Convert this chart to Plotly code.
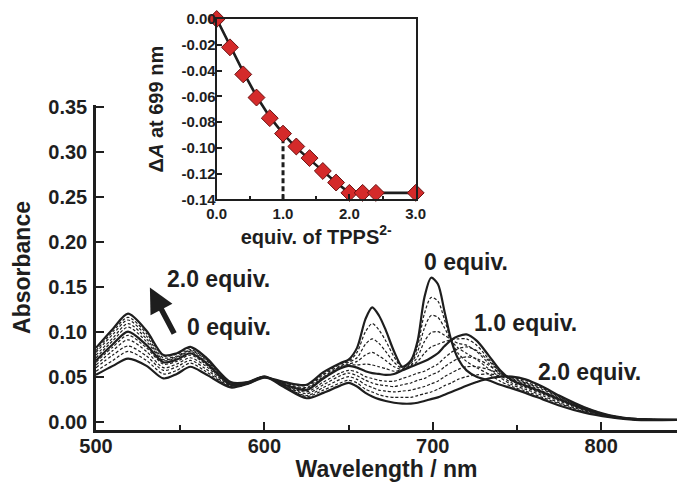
import plotly.graph_objects as go

# ---------------- data ----------------
wavelength = [500, 510, 519, 530, 540, 548, 556, 565, 580, 590, 600, 612, 625, 635, 645,
              650, 655, 660, 664, 668, 672, 677, 682, 687, 691, 695, 699, 703, 707, 711,
              715, 720, 726, 733, 740, 747, 755, 765, 775, 790, 805, 820, 845]

spec_0_0 = [0.052, 0.062, 0.070, 0.062, 0.048, 0.053, 0.061, 0.053, 0.038, 0.042, 0.049, 0.044,
            0.041, 0.055, 0.065, 0.069, 0.082, 0.114, 0.127, 0.118, 0.102, 0.078, 0.061, 0.068,
            0.090, 0.138, 0.160, 0.153, 0.122, 0.090, 0.070, 0.057, 0.050, 0.046, 0.041, 0.037,
            0.032, 0.025, 0.018, 0.010, 0.005, 0.002, 0.002]
spec_0_2 = [0.056, 0.068, 0.078, 0.068, 0.053, 0.057, 0.065, 0.056, 0.039, 0.042, 0.049, 0.043,
            0.040, 0.053, 0.064, 0.067, 0.077, 0.100, 0.109, 0.102, 0.090, 0.072, 0.060, 0.066,
            0.084, 0.120, 0.138, 0.134, 0.113, 0.090, 0.076, 0.067, 0.060, 0.053, 0.045, 0.039,
            0.034, 0.027, 0.020, 0.011, 0.005, 0.002, 0.002]
spec_0_4 = [0.060, 0.074, 0.084, 0.073, 0.057, 0.061, 0.068, 0.059, 0.039, 0.042, 0.049, 0.043,
            0.038, 0.052, 0.062, 0.066, 0.071, 0.086, 0.092, 0.087, 0.078, 0.066, 0.059, 0.065,
            0.078, 0.104, 0.118, 0.116, 0.104, 0.090, 0.082, 0.076, 0.069, 0.059, 0.049, 0.041,
            0.036, 0.029, 0.021, 0.012, 0.005, 0.003, 0.002]
spec_0_6 = [0.063, 0.079, 0.091, 0.078, 0.060, 0.064, 0.071, 0.062, 0.040, 0.043, 0.050, 0.042,
            0.037, 0.050, 0.061, 0.064, 0.067, 0.074, 0.077, 0.073, 0.068, 0.061, 0.058, 0.063,
            0.072, 0.089, 0.099, 0.100, 0.096, 0.091, 0.087, 0.085, 0.078, 0.065, 0.052, 0.043,
            0.038, 0.031, 0.023, 0.013, 0.006, 0.003, 0.002]
spec_0_8 = [0.066, 0.083, 0.096, 0.082, 0.064, 0.067, 0.074, 0.064, 0.041, 0.043, 0.050, 0.041,
            0.036, 0.049, 0.060, 0.063, 0.063, 0.064, 0.063, 0.061, 0.059, 0.056, 0.058, 0.062,
            0.067, 0.076, 0.083, 0.086, 0.089, 0.091, 0.092, 0.092, 0.085, 0.070, 0.055, 0.045,
            0.039, 0.032, 0.024, 0.013, 0.006, 0.003, 0.002]
spec_1_0 = [0.068, 0.086, 0.100, 0.085, 0.066, 0.069, 0.076, 0.066, 0.041, 0.043, 0.050, 0.041,
            0.035, 0.048, 0.059, 0.062, 0.060, 0.056, 0.054, 0.053, 0.052, 0.053, 0.057, 0.061,
            0.064, 0.067, 0.071, 0.076, 0.084, 0.091, 0.095, 0.097, 0.090, 0.074, 0.057, 0.046,
            0.040, 0.033, 0.025, 0.014, 0.006, 0.003, 0.002]
spec_1_2 = [0.071, 0.090, 0.105, 0.089, 0.068, 0.071, 0.078, 0.067, 0.042, 0.043, 0.050, 0.040,
            0.033, 0.044, 0.054, 0.057, 0.055, 0.050, 0.048, 0.046, 0.045, 0.045, 0.048, 0.051,
            0.054, 0.056, 0.060, 0.064, 0.071, 0.077, 0.081, 0.083, 0.079, 0.068, 0.055, 0.047,
            0.042, 0.034, 0.026, 0.014, 0.006, 0.003, 0.002]
spec_1_4 = [0.074, 0.093, 0.109, 0.092, 0.069, 0.072, 0.079, 0.069, 0.042, 0.043, 0.050, 0.040,
            0.031, 0.041, 0.051, 0.054, 0.051, 0.046, 0.043, 0.041, 0.040, 0.039, 0.041, 0.043,
            0.046, 0.048, 0.052, 0.055, 0.061, 0.066, 0.070, 0.072, 0.070, 0.063, 0.054, 0.048,
            0.043, 0.036, 0.027, 0.015, 0.006, 0.003, 0.002]
spec_1_6 = [0.077, 0.097, 0.113, 0.095, 0.071, 0.073, 0.080, 0.070, 0.043, 0.044, 0.050, 0.039,
            0.029, 0.038, 0.047, 0.050, 0.047, 0.041, 0.038, 0.035, 0.034, 0.033, 0.034, 0.035,
            0.037, 0.039, 0.042, 0.045, 0.050, 0.054, 0.058, 0.061, 0.061, 0.058, 0.053, 0.049,
            0.044, 0.037, 0.028, 0.015, 0.007, 0.003, 0.002]
spec_1_8 = [0.079, 0.100, 0.116, 0.098, 0.073, 0.075, 0.082, 0.071, 0.043, 0.044, 0.050, 0.039,
            0.028, 0.035, 0.043, 0.046, 0.043, 0.036, 0.033, 0.030, 0.028, 0.027, 0.027, 0.027,
            0.029, 0.031, 0.033, 0.036, 0.040, 0.043, 0.047, 0.050, 0.052, 0.053, 0.051, 0.049,
            0.046, 0.038, 0.028, 0.016, 0.007, 0.003, 0.002]
spec_2_0 = [0.082, 0.103, 0.120, 0.101, 0.074, 0.076, 0.083, 0.072, 0.044, 0.044, 0.050, 0.038,
            0.026, 0.032, 0.040, 0.043, 0.039, 0.032, 0.028, 0.025, 0.023, 0.021, 0.020, 0.020,
            0.021, 0.023, 0.025, 0.027, 0.030, 0.033, 0.036, 0.040, 0.044, 0.048, 0.050, 0.050,
            0.047, 0.039, 0.029, 0.016, 0.007, 0.003, 0.002]

spectra = [("0", spec_0_0), ("0.2", spec_0_2), ("0.4", spec_0_4), ("0.6", spec_0_6),
           ("0.8", spec_0_8), ("1.0", spec_1_0), ("1.2", spec_1_2), ("1.4", spec_1_4),
           ("1.6", spec_1_6), ("1.8", spec_1_8), ("2.0", spec_2_0)]
solid_equiv = ["0", "1.0", "2.0"]

# inset: delta A at 699 nm vs equiv. of TPPS2-
equiv = [0.0, 0.2, 0.4, 0.6, 0.8, 1.0, 1.2, 1.4, 1.6, 1.8, 2.0, 2.2, 2.4, 3.0]
delta_a = [0.0, -0.022, -0.043, -0.061, -0.077, -0.089, -0.099, -0.108, -0.118, -0.127,
           -0.135, -0.135, -0.135, -0.135]
fit_x = [0.0, 0.2, 0.4, 0.6, 0.8, 1.0, 1.2, 1.4, 1.6, 1.8, 2.0, 3.0]
fit_y = [0.0, -0.021, -0.041, -0.060, -0.076, -0.089, -0.100, -0.109, -0.118, -0.127,
         -0.135, -0.135]
guide_x = [1.0, 1.0]
guide_y = [-0.14, -0.089]

main_yticks = [0.00, 0.05, 0.10, 0.15, 0.20, 0.25, 0.30, 0.35]
inset_yticks = [0.00, -0.02, -0.04, -0.06, -0.08, -0.10, -0.12, -0.14]
inset_yticktext = ["0.00", "-0.02", "-0.04", "-0.06", "-0.08", "-0.10", "-0.12", "-0.14"]

# ---------------- figure ----------------
W, H = 677, 482
FONT = "Liberation Sans, Arial, Helvetica, sans-serif"
INK = "#1e1e1e"

fig = go.Figure()

# dashed intermediate spectra first, solid ones on top
for name, vals in spectra:
    if name in solid_equiv:
        continue
    fig.add_trace(go.Scatter(x=wavelength, y=vals, mode="lines", name=name + " equiv.",
                             line=dict(color=INK, width=1.2, dash="3px,2px", shape="spline",
                                       smoothing=0.8),
                             xaxis="x", yaxis="y", showlegend=False))
for name, vals in spectra:
    if name not in solid_equiv:
        continue
    fig.add_trace(go.Scatter(x=wavelength, y=vals, mode="lines", name=name + " equiv.",
                             line=dict(color=INK, width=2.2, shape="spline", smoothing=0.8),
                             xaxis="x", yaxis="y", showlegend=False))

# inset
fig.add_trace(go.Scatter(x=guide_x, y=guide_y, mode="lines",
                         line=dict(color=INK, width=3, dash="5px,3px"),
                         xaxis="x2", yaxis="y2", showlegend=False))
fig.add_trace(go.Scatter(x=fit_x, y=fit_y, mode="lines",
                         line=dict(color=INK, width=2.6),
                         xaxis="x2", yaxis="y2", showlegend=False))
fig.add_trace(go.Scatter(x=equiv, y=delta_a, mode="markers",
                         marker=dict(symbol="diamond", size=13, color="#d42a2a",
                                     line=dict(color="#6a1212", width=1)),
                         xaxis="x2", yaxis="y2", showlegend=False, cliponaxis=False))


def px_x(p):
    return p / W


def px_y(p):
    return 1 - p / H


tick_font = dict(family=FONT, size=20, color=INK, weight="bold")
inset_font = dict(family=FONT, size=15, color=INK, weight="bold")

fig.update_layout(
    width=W, height=H,
    margin=dict(l=0, r=0, t=0, b=0, autoexpand=False),
    paper_bgcolor="white", plot_bgcolor="rgba(0,0,0,0)",
    font=dict(family=FONT, color=INK),
    xaxis=dict(domain=[px_x(96), 1.0], range=[500, 845], dtick=100, tick0=500,
               showline=True, linecolor=INK, linewidth=2.5, ticks="inside", ticklen=8,
               tickwidth=2, tickcolor=INK, showgrid=False, zeroline=False, automargin=False,
               minor=dict(dtick=50, ticks="inside", ticklen=5, tickwidth=2, tickcolor=INK,
                          showgrid=False),
               tickfont=tick_font, ticklabelstandoff=-4,
               title=dict(text="Wavelength / nm", standoff=5,
                          font=dict(family=FONT, size=23, color=INK, weight="bold"))),
    yaxis=dict(domain=[px_y(430), px_y(105)], range=[-0.0093, 0.352], tickvals=main_yticks,
               tickformat=".2f", showline=True, linecolor=INK, linewidth=2.5,
               ticks="inside", ticklen=8, tickwidth=2, tickcolor=INK, showgrid=False,
               zeroline=False, tickfont=tick_font, ticklabelstandoff=2, automargin=False,
               title=dict(text="Absorbance", standoff=12,
                          font=dict(family=FONT, size=23, color=INK, weight="bold"))),
    xaxis2=dict(domain=[px_x(216.7), px_x(415.7)], range=[0, 3], dtick=1, tick0=0,
                tickformat=".1f", anchor="y2", showline=True, mirror=True, linecolor=INK,
                linewidth=2, ticks="inside", ticklen=5, tickwidth=1.5, tickcolor=INK,
                showgrid=False, zeroline=False, automargin=False,
                minor=dict(dtick=0.5, ticks="inside", ticklen=3, tickwidth=1.5,
                           tickcolor=INK, showgrid=False),
                tickfont=inset_font, ticklabelstandoff=0,
                title=dict(text="equiv. of TPPS<sup>2-</sup>", standoff=4,
                           font=dict(family=FONT, size=20, color=INK, weight="bold"))),
    yaxis2=dict(domain=[px_y(199.3), px_y(19)], range=[-0.14, 0.0], tickvals=inset_yticks,
                ticktext=inset_yticktext, anchor="x2", showline=True, mirror=True,
                linecolor=INK, linewidth=2, ticks="inside", ticklen=5, tickwidth=1.5,
                tickcolor=INK, showgrid=False, zeroline=False, tickfont=inset_font,
                ticklabelstandoff=-4, automargin=False,
                title=dict(text="Δ<i>A</i> at 699 nm", standoff=12,
                           font=dict(family=FONT, size=20, color=INK, weight="bold"))),
)

ann_font = dict(family=FONT, size=23, color=INK, weight="bold")
annotations = [
    dict(text="2.0 equiv.", x=541, y=0.159, xanchor="left"),
    dict(text="0 equiv.", x=552.8, y=0.1056, xanchor="left"),
    dict(text="0 equiv.", x=719.5, y=0.178, xanchor="center"),
    dict(text="1.0 equiv.", x=723, y=0.1097, xanchor="left"),
    dict(text="2.0 equiv.", x=761, y=0.0556, xanchor="left"),
]
for a in annotations:
    fig.add_annotation(xref="x", yref="y", showarrow=False, yanchor="middle",
                       font=ann_font, **a)

# arrow from 0 equiv. towards 2.0 equiv.
fig.add_annotation(xref="x", yref="y", axref="x", ayref="y", x=532, y=0.149,
                   ax=546.9, ay=0.0963, text="", showarrow=True, arrowhead=2,
                   arrowsize=0.9, arrowwidth=5.5, arrowcolor=INK, standoff=0)

fig.write_html("out.html",
               config={"displayModeBar": False},
               post_script="document.body.style.margin='0px';"
                           "document.body.style.overflow='hidden';")
